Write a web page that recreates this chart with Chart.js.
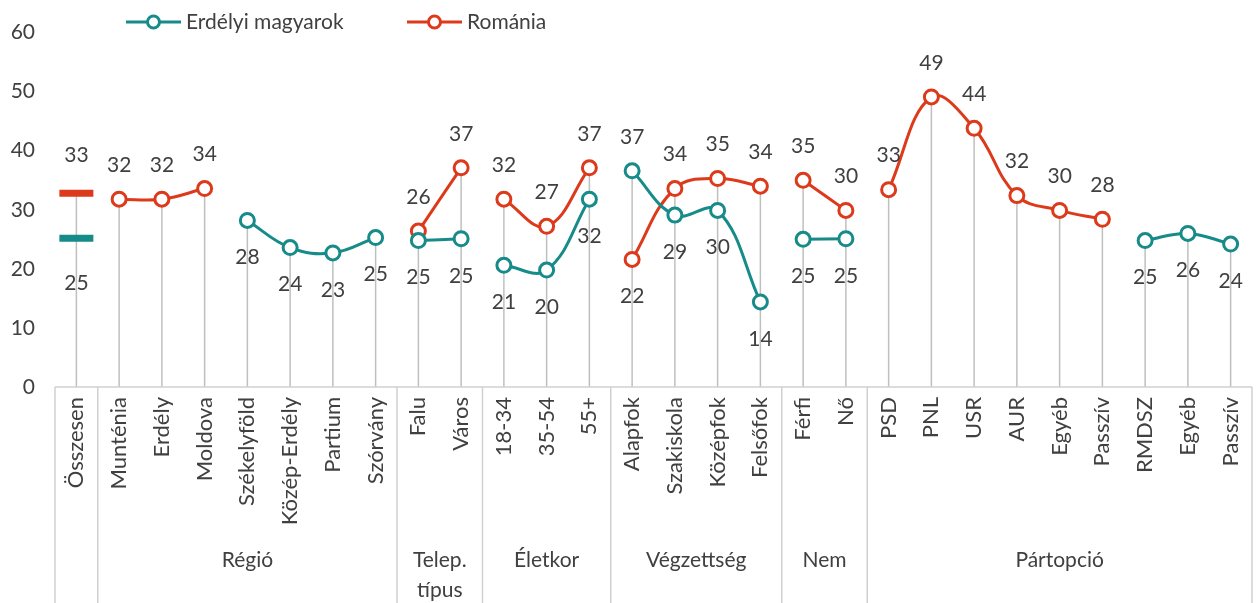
<!DOCTYPE html>
<html>
<head>
<meta charset="utf-8">
<script src="https://cdn.jsdelivr.net/npm/chart.js@4.4.1/dist/chart.umd.min.js"></script>
<style>
  html, body { margin: 0; padding: 0; background: #fff; overflow: hidden; }
  #wrap { width: 1258px; height: 603px; position: relative; }
  #chart { display: block; }
</style>
</head>
<body>
<div id="wrap"><canvas id="chart"></canvas></div>
<script>
const categories = [
  "Összesen",
  "Munténia", "Erdély", "Moldova", "Székelyföld", "Közép-Erdély", "Partium", "Szórvány",
  "Falu", "Város",
  "18-34", "35-54", "55+",
  "Alapfok", "Szakiskola", "Középfok", "Felsőfok",
  "Férfi", "Nő",
  "PSD", "PNL", "USR", "AUR", "Egyéb", "Passzív", "RMDSZ", "Egyéb", "Passzív",
];

// group headers under the axis, and how many categories each one spans
const groupLabels = ["", "Régió", ["Telep.", "típus"], "Életkor", "Végzettség", "Nem", "Pártopció"];
const groupSizes = [1, 7, 2, 3, 4, 2, 9];

const magyarok = [
  25.2,
  null, null, null, 28.2, 23.6, 22.7, 25.3,
  24.8, 25.1,
  20.6, 19.8, 31.8,
  36.6, 29.1, 29.9, 14.4,
  25.0, 25.1,
  null, null, null, null, null, null, 24.8, 26.0, 24.2,
];

const romania = [
  32.8,
  31.8, 31.8, 33.6, null, null, null, null,
  26.4, 37.1,
  31.8, 27.2, 37.1,
  21.6, 33.6, 35.3, 34.0,
  35.0, 29.9,
  33.4, 49.1, 43.8, 32.4, 29.9, 28.4, null, null, null,
];

const TEAL = "#168b89";
const RED = "#dc3a1b";
const TEXT = "#404040";
const FONT = "Lato, 'Open Sans', sans-serif";

function groupStart(g) {
  return groupSizes.slice(0, g).reduce((a, b) => a + b, 0);
}

// one dataset per group so the curves break between groups
function seriesDatasets(values, label, color) {
  const sets = [];
  groupSizes.forEach((size, g) => {
    const start = groupStart(g);
    const data = values.map((v, i) => (i >= start && i < start + size ? v : null));
    if (data.every(v => v === null)) return;
    const total = g === 0;
    sets.push({
      label,
      data,
      borderColor: color,
      backgroundColor: "#fff",
      borderWidth: 3,
      tension: 0.4,
      spanGaps: false,
      pointStyle: total ? "line" : "circle",
      pointRadius: total ? 17 : 7,
      pointHoverRadius: total ? 17 : 7,
      pointBorderWidth: total ? 7 : 3,
      pointBorderColor: color,
      pointBackgroundColor: "#fff",
    });
  });
  return sets;
}

const dropLines = {
  id: "dropLines",
  beforeDatasetsDraw(chart) {
    const { ctx, scales: { x, y } } = chart;
    ctx.save();
    ctx.strokeStyle = "#bfbfbf";
    ctx.lineWidth = 1.5;
    categories.forEach((_, i) => {
      const vals = [magyarok[i], romania[i]].filter(v => v !== null);
      if (!vals.length) return;
      const px = x.getPixelForValue(i);
      ctx.beginPath();
      ctx.moveTo(px, y.getPixelForValue(Math.max(...vals)));
      ctx.lineTo(px, y.getPixelForValue(0));
      ctx.stroke();
    });
    ctx.restore();
  },
};

const valueLabels = {
  id: "valueLabels",
  afterDatasetsDraw(chart) {
    const { ctx, scales: { x, y } } = chart;
    ctx.save();
    ctx.font = `21px ${FONT}`;
    ctx.fillStyle = TEXT;
    ctx.textAlign = "center";
    ctx.textBaseline = "middle";
    categories.forEach((_, i) => {
      const hu = magyarok[i];
      const ro = romania[i];
      const px = x.getPixelForValue(i);
      const up = i === 0 ? 38 : 34;
      const down = i === 0 ? 45 : 37;
      const put = (v, above) => {
        if (v === null) return;
        ctx.fillText(String(Math.round(v)), px, y.getPixelForValue(v) + (above ? -up : down));
      };
      const roAbove = hu === null || ro === null || ro >= hu;
      put(ro, roAbove);
      put(hu, !roAbove);
    });
    ctx.restore();
  },
};

const groupAxis = {
  id: "groupAxis",
  afterDraw(chart) {
    const { ctx, scales: { x, y } } = chart;
    const axisY = y.getPixelForValue(0);
    ctx.save();
    ctx.strokeStyle = "#d0d0d0";
    ctx.lineWidth = 1.5;
    ctx.beginPath();
    ctx.moveTo(x.left, axisY);
    ctx.lineTo(x.right, axisY);
    ctx.stroke();

    const edges = [x.left];
    let start = 0;
    groupSizes.forEach(size => {
      start += size;
      edges.push(x.getPixelForValue(start - 0.5));
    });
    edges.forEach(ex => {
      ctx.beginPath();
      ctx.moveTo(ex, axisY);
      ctx.lineTo(ex, chart.height);
      ctx.stroke();
    });

    ctx.font = `21px ${FONT}`;
    ctx.fillStyle = TEXT;
    ctx.textAlign = "center";
    ctx.textBaseline = "middle";
    groupLabels.forEach((lab, g) => {
      const cx = (edges[g] + edges[g + 1]) / 2;
      const lines = Array.isArray(lab) ? lab : [lab];
      lines.forEach((t, k) => ctx.fillText(t, cx, 560 + k * 30));
    });
    ctx.restore();
  },
};

const lineLegend = {
  id: "lineLegend",
  afterDraw(chart) {
    const { ctx } = chart;
    const items = [
      { text: "Erdélyi magyarok", color: TEAL, x: 126 },
      { text: "Románia", color: RED, x: 407 },
    ];
    const ly = 22;
    ctx.save();
    items.forEach(it => {
      ctx.strokeStyle = it.color;
      ctx.lineWidth = 3;
      ctx.beginPath();
      ctx.moveTo(it.x, ly);
      ctx.lineTo(it.x + 55, ly);
      ctx.stroke();
      ctx.fillStyle = "#fff";
      ctx.beginPath();
      ctx.arc(it.x + 27.5, ly, 6, 0, Math.PI * 2);
      ctx.fill();
      ctx.stroke();
      ctx.fillStyle = TEXT;
      ctx.font = `21px ${FONT}`;
      ctx.textAlign = "left";
      ctx.textBaseline = "middle";
      ctx.fillText(it.text, it.x + 60, ly);
    });
    ctx.restore();
  },
};

new Chart(document.getElementById("chart"), {
  type: "line",
  data: {
    labels: categories,
    datasets: [
      ...seriesDatasets(magyarok, "Erdélyi magyarok", TEAL),
      ...seriesDatasets(romania, "Románia", RED),
    ],
  },
  options: {
    responsive: true,
    maintainAspectRatio: false,
    animation: false,
    layout: { autoPadding: false, padding: { top: 32, left: 0, right: 6, bottom: 0 } },
    plugins: {
      legend: { display: false },
      tooltip: { enabled: false },
    },
    scales: {
      x: {
        offset: true,
        grid: { display: false, drawTicks: false },
        border: { display: false },
        ticks: {
          autoSkip: false,
          minRotation: 90,
          maxRotation: 90,
          padding: 10,
          color: TEXT,
          font: { family: FONT, size: 22 },
        },
        afterFit(scale) {
          scale.height = 216;
          scale.paddingLeft = 0;
          scale.paddingRight = 0;
        },
      },
      y: {
        min: 0,
        max: 60,
        grid: { display: false, drawTicks: false },
        border: { display: false },
        ticks: {
          stepSize: 10,
          padding: 20,
          color: TEXT,
          font: { family: FONT, size: 21 },
        },
        afterFit(scale) { scale.width = 55; },
      },
    },
  },
  plugins: [dropLines, valueLabels, groupAxis, lineLegend],
});
</script>
</body>
</html>
